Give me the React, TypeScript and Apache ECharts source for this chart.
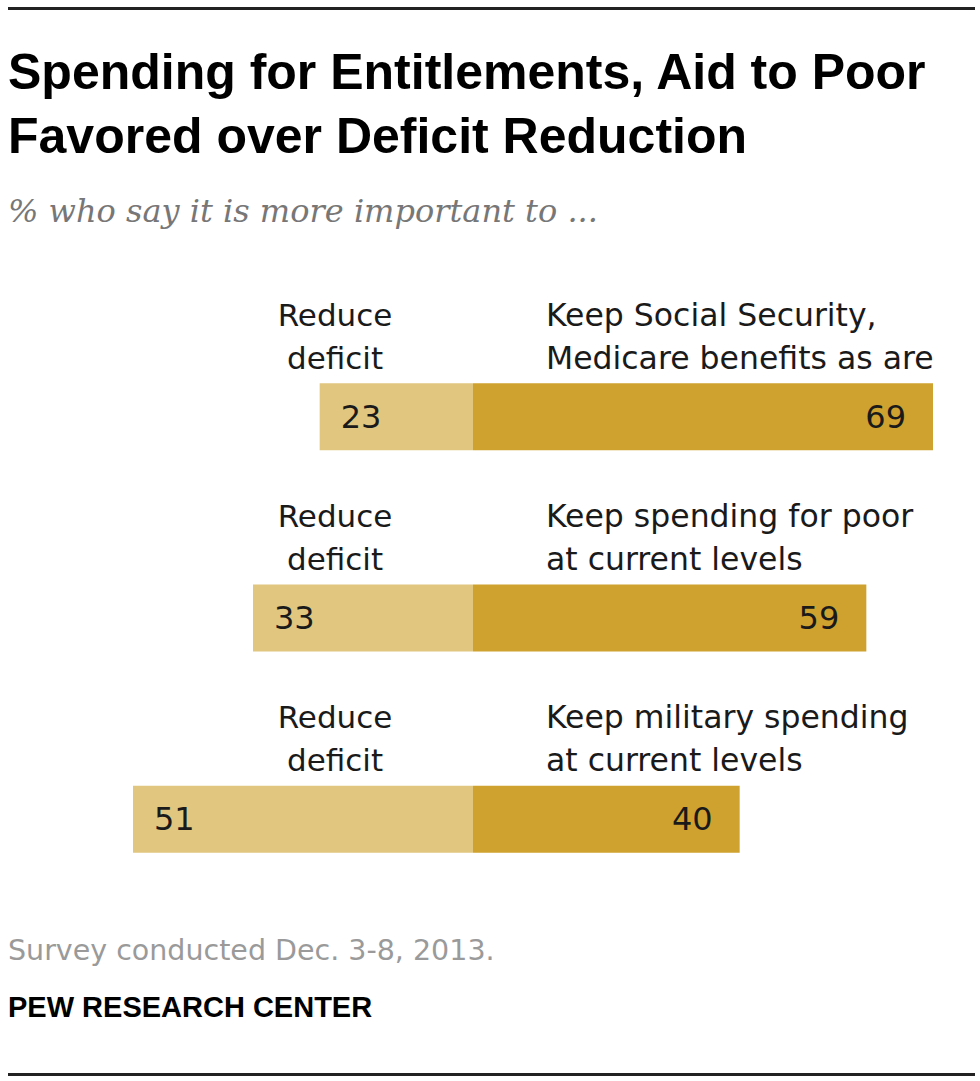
import React, { useEffect, useRef } from "react";
import * as echarts from "echarts";

const categories = ["Social Security, Medicare", "Spending for poor", "Military spending"];
const reduceDeficit = [23, 33, 51];
const keepSpending = [69, 59, 40];
const leftLabelLines = ["Reduce", "deficit"];
const rightLabelLines = [
  ["Keep Social Security,", "Medicare benefits as are"],
  ["Keep spending for poor", "at current levels"],
  ["Keep military spending", "at current levels"],
];
const titleLines = ["Spending for Entitlements, Aid to Poor", "Favored over Deficit Reduction"];
const subtitle = "% who say it is more important to ...";
const sourceNote = "Survey conducted Dec. 3-8, 2013.";
const brand = "PEW RESEARCH CENTER";

const LIGHT = "#E0C67F";
const DARK = "#CFA22F";
const SANS = "'DejaVu Sans', sans-serif";

export default function App() {
  const ref = useRef<HTMLDivElement>(null);
  useEffect(() => {
    if (!ref.current) return;
    const chart = echarts.init(ref.current, null, { renderer: "svg" });
    const numLabel = {
      show: true,
      fontFamily: SANS,
      fontSize: 32,
      color: "#1a1a1a",
      formatter: (p: any) => String(Math.abs(p.value)),
    };
    chart.setOption({
      animation: false,
      grid: { left: 133, right: 47, top: 316, bottom: 161 },
      xAxis: { type: "value", min: -51, max: 69, show: false },
      yAxis: { type: "category", data: categories, inverse: true, show: false },
      series: [
        {
          type: "bar",
          name: "Reduce deficit",
          data: reduceDeficit.map((v) => -v),
          barWidth: 67,
          barGap: "-100%",
          itemStyle: { color: LIGHT },
          label: { ...numLabel, position: "insideLeft", distance: 21 },
        },
        {
          type: "bar",
          name: "Keep spending",
          data: keepSpending,
          barWidth: 67,
          barGap: "-100%",
          itemStyle: { color: DARK },
          label: { ...numLabel, position: "insideRight", distance: 27 },
        },
      ],
    });

    const zeroX = chart.convertToPixel({ xAxisIndex: 0 }, 0) as number;
    const elements: any[] = [];
    categories.forEach((c, i) => {
      const cy = chart.convertToPixel({ yAxisIndex: 0 }, c) as number;
      leftLabelLines.forEach((t, j) => {
        elements.push({
          type: "text",
          x: zeroX - 138,
          y: cy - 102 + j * 43,
          style: { text: t, fontFamily: SANS, fontSize: 31, fill: "#1a1a1a", align: "center", verticalAlign: "middle" },
        });
      });
      rightLabelLines[i].forEach((t, j) => {
        elements.push({
          type: "text",
          x: zeroX + 73,
          y: cy - 102 + j * 43,
          style: { text: t, fontFamily: SANS, fontSize: 31.5, fill: "#1a1a1a", align: "left", verticalAlign: "middle" },
        });
      });
    });

    elements.push(
      { type: "rect", shape: { x: 8, y: 7, width: 967, height: 3 }, style: { fill: "#222" } },
      { type: "rect", shape: { x: 8, y: 1073, width: 967, height: 3 }, style: { fill: "#222" } },
      {
        type: "text",
        x: 8,
        y: 72,
        style: { text: titleLines[0], fontFamily: "'Liberation Sans', Arial, sans-serif", fontWeight: "bold", fontSize: 50, fill: "#000", verticalAlign: "middle" },
      },
      {
        type: "text",
        x: 8,
        y: 136,
        style: { text: titleLines[1], fontFamily: "'Liberation Sans', Arial, sans-serif", fontWeight: "bold", fontSize: 50, fill: "#000", verticalAlign: "middle" },
      },
      {
        type: "text",
        x: 8,
        y: 211,
        style: { text: subtitle, fontFamily: "'DejaVu Serif', serif", fontStyle: "italic", fontSize: 32, fill: "#777", verticalAlign: "middle" },
      },
      {
        type: "text",
        x: 8,
        y: 950,
        style: { text: sourceNote, fontFamily: SANS, fontSize: 28.5, fill: "#9a9a9a", verticalAlign: "middle" },
      },
      {
        type: "text",
        x: 8,
        y: 1007,
        style: { text: brand, fontFamily: "'Liberation Sans', Arial, sans-serif", fontWeight: "bold", fontSize: 29, fill: "#000", verticalAlign: "middle" },
      }
    );
    chart.setOption({ graphic: elements });
    return () => chart.dispose();
  }, []);
  return <div ref={ref} style={{ position: "absolute", left: 0, top: 0, width: 980, height: 1081, background: "#fff" }} />;
}
